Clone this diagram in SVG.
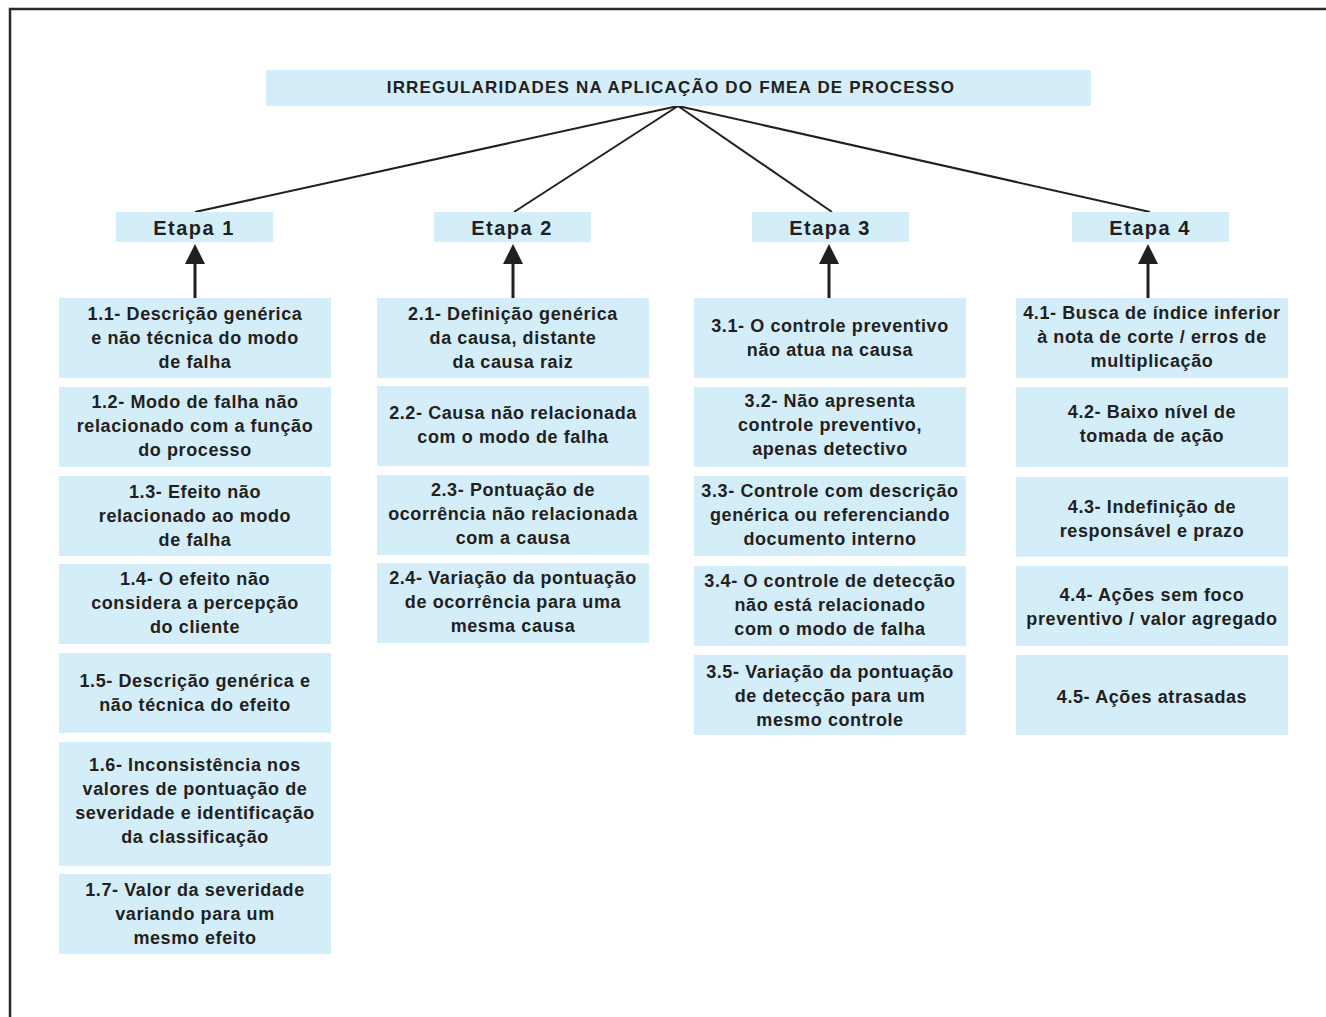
<svg xmlns="http://www.w3.org/2000/svg" width="1326" height="1017" viewBox="0 0 1326 1017">
<defs>
<style>
.box{fill:#d3edf9}
.t{font-family:"Liberation Sans",Arial,sans-serif;font-weight:bold;font-size:18px;fill:#231f20;text-anchor:middle;letter-spacing:0.6px}
.et{font-family:"Liberation Sans",Arial,sans-serif;font-weight:bold;font-size:20px;fill:#231f20;text-anchor:middle;letter-spacing:1.5px}
.ti{font-family:"Liberation Sans",Arial,sans-serif;font-weight:bold;font-size:17px;fill:#231f20;text-anchor:middle;letter-spacing:1.2px}
.ln{stroke:#231f20;stroke-width:2;fill:none}
.ar{stroke:#231f20;stroke-width:3;fill:none}
</style>
<marker id="ah" viewBox="0 0 20 20" refX="0" refY="10" markerWidth="20" markerHeight="20" markerUnits="userSpaceOnUse" orient="auto">
<path d="M0,0 L20,10 L0,20 Z" fill="#231f20"/>
</marker>
</defs>
<rect x="0" y="0" width="1326" height="1017" fill="#ffffff"/>
<path d="M10,1017 V9 H1326" fill="none" stroke="#2b2b2b" stroke-width="2.5"/>

<g id="connectors">
<path class="ln" d="M678,106 L195,212"/>
<path class="ln" d="M678,106 L514,212"/>
<path class="ln" d="M678,106 L832,212"/>
<path class="ln" d="M678,106 L1150,212"/>
<path class="ar" d="M195,298 V264" marker-end="url(#ah)"/>
<path class="ar" d="M513,298 V264" marker-end="url(#ah)"/>
<path class="ar" d="M829,298 V264" marker-end="url(#ah)"/>
<path class="ar" d="M1148,298 V264" marker-end="url(#ah)"/>
</g>

<g id="title"><rect class="box" x="266" y="70" width="825" height="36"/><text class="ti" x="671" y="93">IRREGULARIDADES NA APLICAÇÃO DO FMEA DE PROCESSO</text></g>

<g id="etapa1"><rect class="box" x="116" y="212" width="157" height="30"/><text class="et" x="194" y="235">Etapa 1</text></g>
<g id="etapa2"><rect class="box" x="434" y="212" width="157" height="30"/><text class="et" x="512" y="235">Etapa 2</text></g>
<g id="etapa3"><rect class="box" x="752" y="212" width="157" height="30"/><text class="et" x="830" y="235">Etapa 3</text></g>
<g id="etapa4"><rect class="box" x="1072" y="212" width="157" height="30"/><text class="et" x="1150" y="235">Etapa 4</text></g>

<g id="n1-1"><rect class="box" x="59" y="298" width="272" height="80"/><text class="t" x="195" y="320">1.1- Descrição genérica</text><text class="t" x="195" y="344">e não técnica do modo</text><text class="t" x="195" y="368">de falha</text></g>
<g id="n1-2"><rect class="box" x="59" y="387" width="272" height="80"/><text class="t" x="195" y="408">1.2- Modo de falha não</text><text class="t" x="195" y="432">relacionado com a função</text><text class="t" x="195" y="456">do processo</text></g>
<g id="n1-3"><rect class="box" x="59" y="476" width="272" height="80"/><text class="t" x="195" y="498">1.3- Efeito não</text><text class="t" x="195" y="522">relacionado ao modo</text><text class="t" x="195" y="546">de falha</text></g>
<g id="n1-4"><rect class="box" x="59" y="564" width="272" height="80"/><text class="t" x="195" y="585">1.4- O efeito não</text><text class="t" x="195" y="609">considera a percepção</text><text class="t" x="195" y="633">do cliente</text></g>
<g id="n1-5"><rect class="box" x="59" y="653" width="272" height="80"/><text class="t" x="195" y="687">1.5- Descrição genérica e</text><text class="t" x="195" y="711">não técnica do efeito</text></g>
<g id="n1-6"><rect class="box" x="59" y="742" width="272" height="124"/><text class="t" x="195" y="771">1.6- Inconsistência nos</text><text class="t" x="195" y="795">valores de pontuação de</text><text class="t" x="195" y="819">severidade e identificação</text><text class="t" x="195" y="843">da classificação</text></g>
<g id="n1-7"><rect class="box" x="59" y="874" width="272" height="80"/><text class="t" x="195" y="896">1.7- Valor da severidade</text><text class="t" x="195" y="920">variando para um</text><text class="t" x="195" y="944">mesmo efeito</text></g>

<g id="n2-1"><rect class="box" x="377" y="298" width="272" height="80"/><text class="t" x="513" y="320">2.1- Definição genérica</text><text class="t" x="513" y="344">da causa, distante</text><text class="t" x="513" y="368">da causa raiz</text></g>
<g id="n2-2"><rect class="box" x="377" y="386" width="272" height="80"/><text class="t" x="513" y="419">2.2- Causa não relacionada</text><text class="t" x="513" y="443">com o modo de falha</text></g>
<g id="n2-3"><rect class="box" x="377" y="475" width="272" height="80"/><text class="t" x="513" y="496">2.3- Pontuação de</text><text class="t" x="513" y="520">ocorrência não relacionada</text><text class="t" x="513" y="544">com a causa</text></g>
<g id="n2-4"><rect class="box" x="377" y="563" width="272" height="80"/><text class="t" x="513" y="584">2.4- Variação da pontuação</text><text class="t" x="513" y="608">de ocorrência para uma</text><text class="t" x="513" y="632">mesma causa</text></g>

<g id="n3-1"><rect class="box" x="694" y="298" width="272" height="80"/><text class="t" x="830" y="332">3.1- O controle preventivo</text><text class="t" x="830" y="356">não atua na causa</text></g>
<g id="n3-2"><rect class="box" x="694" y="387" width="272" height="80"/><text class="t" x="830" y="407">3.2- Não apresenta</text><text class="t" x="830" y="431">controle preventivo,</text><text class="t" x="830" y="455">apenas detectivo</text></g>
<g id="n3-3"><rect class="box" x="694" y="476" width="272" height="80"/><text class="t" x="830" y="497">3.3- Controle com descrição</text><text class="t" x="830" y="521">genérica ou referenciando</text><text class="t" x="830" y="545">documento interno</text></g>
<g id="n3-4"><rect class="box" x="694" y="566" width="272" height="80"/><text class="t" x="830" y="587">3.4- O controle de detecção</text><text class="t" x="830" y="611">não está relacionado</text><text class="t" x="830" y="635">com o modo de falha</text></g>
<g id="n3-5"><rect class="box" x="694" y="655" width="272" height="80"/><text class="t" x="830" y="678">3.5- Variação da pontuação</text><text class="t" x="830" y="702">de detecção para um</text><text class="t" x="830" y="726">mesmo controle</text></g>

<g id="n4-1"><rect class="box" x="1016" y="298" width="272" height="80"/><text class="t" x="1152" y="319">4.1- Busca de índice inferior</text><text class="t" x="1152" y="343">à nota de corte / erros de</text><text class="t" x="1152" y="367">multiplicação</text></g>
<g id="n4-2"><rect class="box" x="1016" y="387" width="272" height="80"/><text class="t" x="1152" y="418">4.2- Baixo nível de</text><text class="t" x="1152" y="442">tomada de ação</text></g>
<g id="n4-3"><rect class="box" x="1016" y="477" width="272" height="80"/><text class="t" x="1152" y="513">4.3- Indefinição de</text><text class="t" x="1152" y="537">responsável e prazo</text></g>
<g id="n4-4"><rect class="box" x="1016" y="566" width="272" height="80"/><text class="t" x="1152" y="601">4.4- Ações sem foco</text><text class="t" x="1152" y="625">preventivo / valor agregado</text></g>
<g id="n4-5"><rect class="box" x="1016" y="655" width="272" height="80"/><text class="t" x="1152" y="703">4.5- Ações atrasadas</text></g>
</svg>
